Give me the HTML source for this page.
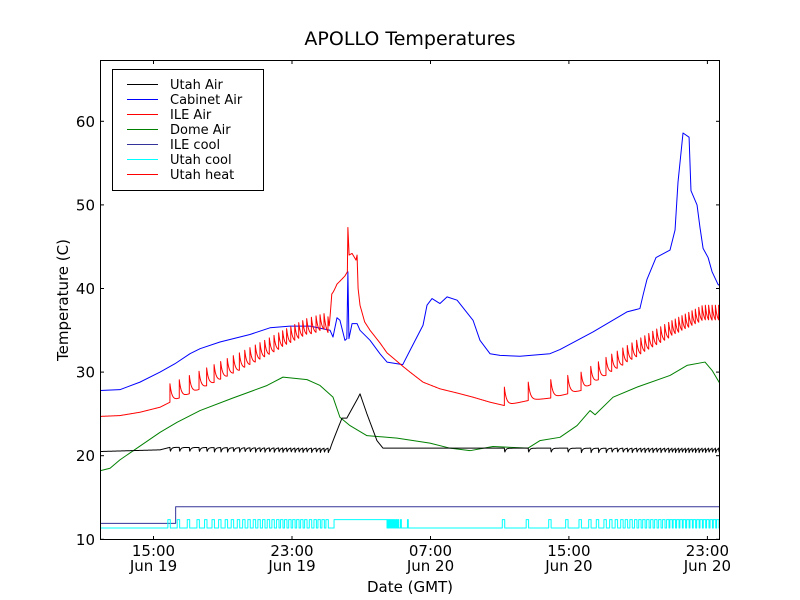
<!DOCTYPE html>
<html><head><meta charset="utf-8"><style>
html,body{margin:0;padding:0;background:#fff;}
svg{display:block;font-family:"DejaVu Sans","Liberation Sans",sans-serif;}
</style></head><body>
<svg id="chart" width="800" height="600" viewBox="0 0 800 600">
<rect x="0" y="0" width="800" height="600" fill="#fff"/>
<text x="410" y="45" font-size="19" text-anchor="middle">APOLLO Temperatures</text>
<text x="410" y="592" font-size="15" text-anchor="middle">Date (GMT)</text>
<text transform="translate(68,300) rotate(-90)" font-size="15" text-anchor="middle">Temperature (C)</text>
<defs><clipPath id="plotclip"><rect x="100" y="60" width="620" height="480"/></clipPath></defs>
<g id="series" clip-path="url(#plotclip)"></g>
<g id="axes"></g>
<g>
<rect x="112.5" y="69.5" width="151" height="121" fill="#fff" stroke="#000" stroke-width="1"/>
<g id="legend"></g>
</g>
</svg>
<script>
// ---- data ----
const xTickHours = [15, 23, 31, 39, 47];
const xTickTimes = ["15:00", "23:00", "07:00", "15:00", "23:00"];
const xTickDays = ["Jun 19", "Jun 19", "Jun 20", "Jun 20", "Jun 20"];
const yTicks = [10, 20, 30, 40, 50, 60];

const cabinetT = [11.91,13.06,14.22,15.38,16.24,17.11,17.69,18.84,20.57,21.73,22.89,24.04,25.20,25.37,25.60,25.77,26.06,26.17,26.23,26.29,26.47,26.76,26.93,27.51,28.08,28.49,29.40,29.82,30.57,30.80,31.09,31.55,31.96,32.54,33.46,33.86,34.44,35.02,36.17,37.90,38.48,40.39,42.35,43.10,43.28,43.51,44.03,44.84,45.13,45.30,45.59,45.94,46.05,46.40,46.57,46.75,47.04,47.27,47.61,47.73];
const cabinetV = [27.8,27.9,28.8,30,31,32.2,32.8,33.6,34.5,35.3,35.5,35.5,35.0,34.2,36.5,36.2,33.8,34,42,34,35.8,35.8,35,33.8,32.2,31.2,30.9,32.6,35.6,38,38.8,38.2,39,38.6,36.2,33.8,32.2,32,31.9,32.2,32.7,34.8,37.2,37.6,39.2,41.1,43.7,44.6,47,52.7,58.6,58.1,51.7,50,47.3,44.8,43.7,42,40.5,40.3];

const ileT = [11.91,13.06,14.22,15.38,15.95,17.07,18.5,19.96,21.42,22.69,23.85,24.85,25.15,25.3,25.6,26.06,26.2,26.23,26.3,26.47,26.7,26.76,26.82,26.93,27.2,27.51,28.08,28.49,28.95,29.4,29.82,30.57,31.55,32.54,33.46,34.44,35.27,36.65,37.95,39.7,41.0,42.9,44.8,46.75,47.73];
const ileV = [24.7,24.8,25.2,25.8,26.4,27.4,28.7,30.1,31.6,33.0,34.2,34.8,34.3,39,40.5,41.5,42,47.3,44,44.2,43.4,44,40,38,36,35,33.5,32.3,31.5,30.7,30,28.8,28,27.5,27,26.4,26.0,26.6,26.9,27.8,29.4,31.6,33.8,35.8,35.8];

const domeT = [11.91,12.49,13.06,15.38,16.36,17.69,19.59,21.56,22.48,23.87,24.62,25.37,25.77,26.35,27.33,29.07,30.97,32.13,33.28,34.61,36.63,37.32,38.48,39.47,40.22,40.51,41.55,42.93,44.84,45.82,46.86,47.27,47.73];
const domeV = [18.2,18.5,19.5,22.8,24,25.4,26.9,28.4,29.4,29.1,28.4,27,24.6,23.6,22.4,22.1,21.5,20.9,20.6,21.1,20.9,21.8,22.2,23.6,25.4,24.9,27,28.2,29.6,30.8,31.2,30.2,28.6];

const utahT = [11.91,15.38,15.95,25.2,25.89,26.17,26.81,26.93,27.33,27.91,28.26,47.73];
const utahV = [20.5,20.7,21.0,20.9,24.5,24.5,26.9,27.4,25,21.8,20.9,20.9];

const heaterCycles = [15.95,16.49,17.07,17.63,18.07,18.50,18.88,19.26,19.61,19.96,20.27,20.57,20.88,21.15,21.42,21.69,21.96,22.23,22.46,22.69,22.93,23.16,23.39,23.62,23.85,24.12,24.39,24.62,24.85,25.08,
35.27,36.65,37.95,38.93,39.70,40.26,40.70,41.14,41.47,41.79,42.11,42.37,42.64,42.91,43.15,43.38,43.61,43.84,44.07,44.30,44.53,44.76,44.95,45.14,45.34,45.53,45.72,45.92,46.11,46.30,46.50,46.69,46.88,47.07,47.27,47.46,47.65];
const ileSpike = [2.2];
const utahDip = [0.7];

const coolOnSpans = [[25.43, 28.49]];
const coolExtraPulses = [28.55,28.62,28.7,28.78,28.86,28.95,29.05,29.15,29.3,29.7];
const coolLevels = [11.35, 12.35];

const ileCoolT = [11.91, 16.28, 47.73];
const ileCoolV = [11.9, 13.9, 13.9];

// ---- scales ----
const X = h => 153.5 + (h - 15) * 17.31;
const Y = v => 539.3 - (v - 10) * 8.36;
const NS = "http://www.w3.org/2000/svg";
const series = document.getElementById('series');
const axes = document.getElementById('axes');

function interp(ts, vs, t){
  if (t <= ts[0]) return vs[0];
  for (let i=1;i<ts.length;i++){ if (t <= ts[i]) { const f=(t-ts[i-1])/(ts[i]-ts[i-1]); return vs[i-1]+f*(vs[i]-vs[i-1]); } }
  return vs[vs.length-1];
}
function lastCycle(t){ let c=null; for (const tc of heaterCycles){ if (tc<=t) c=tc; else break; } return c; }
function sampleTimes(knots){
  const s=[]; for (let t=11.9;t<=47.74;t+=0.02) s.push(t);
  knots.forEach(k=>s.push(k)); heaterCycles.forEach(k=>{s.push(k-0.001); s.push(k);});
  return s.sort((a,b)=>a-b);
}
function addPath(d, color, w, name){
  const p=document.createElementNS(NS,'path');
  p.setAttribute('d', d); p.setAttribute('fill','none'); p.setAttribute('stroke',color);
  p.setAttribute('stroke-width', w); p.setAttribute('stroke-linejoin','round');
  
  
  series.appendChild(p);
}
function lineD(pts){ return pts.map((p,i)=>(i?'L':'M')+X(p[0]).toFixed(2)+','+Y(p[1]).toFixed(2)).join(''); }

// ILE cool (step)
{
  let d='M'+X(ileCoolT[0])+','+Y(ileCoolV[0]);
  for (let i=1;i<ileCoolT.length;i++){ d+='L'+X(ileCoolT[i])+','+Y(ileCoolV[i-1])+'L'+X(ileCoolT[i])+','+Y(ileCoolV[i]); }
  addPath(d,'#333399',1,'ile-cool-line');
}
// Utah cool (pulses)
{
  const ev=[];
  heaterCycles.forEach(tc=>ev.push([tc-0.12, tc+0.02]));
  coolOnSpans.forEach(s=>ev.push([s[0], s[1]]));
  coolExtraPulses.forEach(tc=>ev.push([tc-0.03, tc+0.02]));
  ev.sort((a,b)=>a[0]-b[0]);
  const lo=Y(coolLevels[0]), hi=Y(coolLevels[1]);
  let d='M'+X(11.91)+','+lo;
  ev.forEach(e=>{ d+='L'+X(e[0]).toFixed(2)+','+lo+'L'+X(e[0]).toFixed(2)+','+hi+'L'+X(e[1]).toFixed(2)+','+hi+'L'+X(e[1]).toFixed(2)+','+lo; });
  d+='L'+X(47.73)+','+lo;
  addPath(d,'#00ffff',1,'utah-cool-line');
}
// Dome Air
addPath(lineD(domeT.map((t,i)=>[t,domeV[i]])),'#008000',1,'dome-air-line');
// Utah Air with dips
{
  const pts=sampleTimes(utahT).map(t=>{ let v=interp(utahT,utahV,t); const c=lastCycle(t); if(c!==null && t-c<0.6) v-=utahDip[0]*Math.exp(-(t-c)/0.07)*Math.min(1,(t-c)/0.02+0.0); return [t,v]; });
  addPath(lineD(pts),'#000000',1,'utah-air-line');
}
// Cabinet Air
addPath(lineD(cabinetT.map((t,i)=>[t,cabinetV[i]])),'#0000ff',1,'cabinet-air-line');
// ILE Air with heater spikes
{
  const pts=sampleTimes(ileT).map(t=>{ let v=interp(ileT,ileV,t); const c=lastCycle(t); if(c!==null && t-c<0.8) v+=ileSpike[0]*Math.exp(-(t-c)/0.12); return [t,v]; });
  addPath(lineD(pts),'#ff0000',1,'ile-air-line');
}

// ---- axes ----
function mk(tag, attrs, parent){ const e=document.createElementNS(NS,tag); for(const k in attrs) e.setAttribute(k,attrs[k]); (parent||axes).appendChild(e); return e; }
const frame = mk('rect',{x:100.5,y:60.5,width:619,height:479,fill:'none',stroke:'#000','stroke-width':1});


yTicks.forEach(v=>{
  const y=Y(v).toFixed(1);
  mk('line',{x1:100,y1:y,x2:104,y2:y,stroke:'#000'}); mk('line',{x1:716,y1:y,x2:720,y2:y,stroke:'#000'});
  const t=mk('text',{x:95,y:+y+5.5,'font-size':15,'text-anchor':'end'}); t.textContent=v;
  
  
});
xTickHours.forEach((h,i)=>{
  const x=X(h).toFixed(1);
  mk('line',{x1:x,y1:536,x2:x,y2:540,stroke:'#000'}); mk('line',{x1:x,y1:60,x2:x,y2:64,stroke:'#000'});
  const t=mk('text',{x:x,y:556,'font-size':15,'text-anchor':'middle'}); t.textContent=xTickTimes[i];
  
  
  const t2=mk('text',{x:x,y:571,'font-size':15,'text-anchor':'middle'}); t2.textContent=xTickDays[i];
  
  
});

// ---- legend ----
const legendNames = ["Utah Air","Cabinet Air","ILE Air","Dome Air","ILE cool","Utah cool","Utah heat"];
const legendColors = ["#000000","#0000ff","#ff0000","#008000","#333399","#00ffff","#ff0000"];
const lg=document.getElementById('legend');
legendNames.forEach((n,i)=>{
  const y=84.5+i*15;
  const g=mk('g',{},lg);
  
  
  mk('line',{x1:127,y1:y,x2:158,y2:y,stroke:legendColors[i],'stroke-width':1},g);
  const t=mk('text',{x:170,y:y+4.5,'font-size':13},g); t.textContent=n;
});
</script>
</body></html>
